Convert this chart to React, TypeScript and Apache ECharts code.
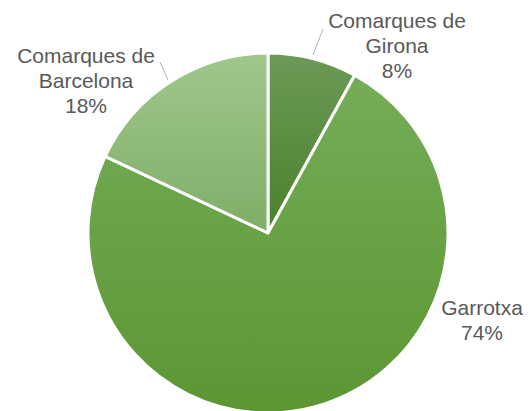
import React, { useEffect, useRef } from "react";
import * as echarts from "echarts";

const categories = ["Comarques de\nGirona", "Garrotxa", "Comarques de\nBarcelona"];
const values = [8, 74, 18];
const topColors = ["#6c9a58", "#74ad57", "#a0c78c"];
const bottomColors = ["#4a812a", "#5c9633", "#7fae67"];

export default function App() {
  const ref = useRef<HTMLDivElement>(null);
  useEffect(() => {
    if (!ref.current) return;
    const chart = echarts.init(ref.current, null, { renderer: "svg" });
    const labelPos: Record<number, any> = {
      0: { x: 397, y: 45, line: [[313, 55], [323, 29]] },
      1: { x: 482, y: 320, line: null },
      2: { x: 86, y: 80, line: [[168, 80], [160, 62]] },
    };
    chart.setOption({
      animation: false,
      backgroundColor: "#ffffff",
      series: [
        {
          type: "pie",
          center: [268, 233],
          radius: 180,
          startAngle: 90,
          clockwise: true,
          data: categories.map((c, i) => ({
            name: c,
            value: values[i],
            itemStyle: {
              color: new echarts.graphic.LinearGradient(0, 0, 0, 1, [
                { offset: 0, color: topColors[i] },
                { offset: 1, color: bottomColors[i] },
              ]),
            },
            labelLine: { show: i !== 1 },
          })),
          itemStyle: { borderColor: "#ffffff", borderWidth: 3 },
          label: {
            show: true,
            position: "outside",
            formatter: "{b}\n{d}%",
            fontFamily: "Liberation Sans, Arial, sans-serif",
            fontSize: 21,
            lineHeight: 25,
            color: "#595959",
            align: "center",
            overflow: "none",
            width: 200,
          },
          labelLine: {
            show: true,
            lineStyle: { color: "#a6b4c6", width: 1 },
          },
          labelLayout: (params: any) => {
            const p = labelPos[params.dataIndex];
            const res: any = { x: p.x, y: p.y, align: "center", verticalAlign: "middle" };
            if (p.line) res.labelLinePoints = p.line;
            return res;
          },
        },
      ],
    });
    return () => chart.dispose();
  }, []);
  return <div ref={ref} style={{ width: 529, height: 411, position: "absolute", left: 0, top: 0 }} />;
}
